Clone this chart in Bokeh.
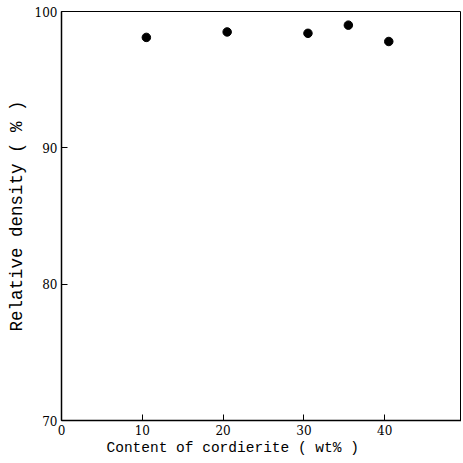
from bokeh.plotting import figure
from bokeh.models import FixedTicker, Range1d, Title
from bokeh.embed import file_html
from bokeh.resources import INLINE

content = [10.5, 20.5, 30.5, 35.5, 40.5]
density = [98.1, 98.5, 98.4, 99.0, 97.8]
x_ticks = [0, 10, 20, 30, 40]
y_ticks = [70, 80, 90, 100]
x_title = "Content of cordierite ( wt% )"
y_title = "Relative density ( % )"

p = figure(width=461, height=461, output_backend="svg", toolbar_location=None,
           x_range=Range1d(0, 49.5), y_range=Range1d(70, 100),
           min_border_left=61, min_border_right=0, min_border_top=11, min_border_bottom=41)

p.scatter(content, density, size=8.5, color="black", marker="circle")

p.xgrid.visible = False
p.ygrid.visible = False
p.outline_line_color = "black"
p.outline_line_width = 1

for ax in (p.xaxis[0], p.yaxis[0]):
    ax.axis_line_color = "black"
    ax.axis_line_width = 1.5
    ax.major_tick_in = 6
    ax.major_tick_out = 0
    ax.minor_tick_line_color = None
    ax.major_label_text_font = "DejaVu Serif"
    ax.major_label_text_font_size = "12px"
    ax.major_label_text_color = "black"
    ax.axis_label_text_font = "Liberation Mono"
    ax.axis_label_text_font_style = "normal"
    ax.axis_label_text_color = "black"

p.xaxis.ticker = FixedTicker(ticks=x_ticks)
p.yaxis.ticker = FixedTicker(ticks=y_ticks)
p.xaxis.major_label_standoff = 4
p.yaxis.major_label_standoff = 4
p.yaxis.axis_label = y_title
p.yaxis.axis_label_text_font_size = "17.5px"
p.yaxis.axis_label_standoff = 5

xt = Title(text=x_title, align="left", offset=45, text_font="Liberation Mono",
           text_font_size="14.5px", text_font_style="normal", text_color="black",
           standoff=0)
p.add_layout(xt, "below")

open("out.html", "w").write(file_html(p, INLINE))
